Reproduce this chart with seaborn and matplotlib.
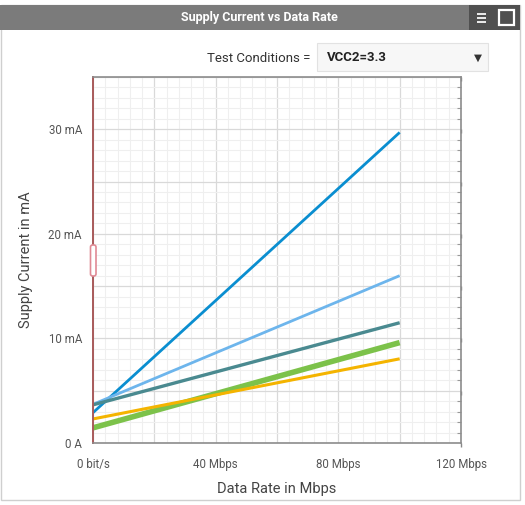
import numpy as np
import pandas as pd
import seaborn as sns
from matplotlib import pyplot as plt
from matplotlib.patches import Rectangle, FancyBboxPatch
from matplotlib.ticker import MultipleLocator, FixedLocator

# data (mA at 0 and 100 Mbps)
rates = [0, 100]
series_names = ['s1', 's2', 's3', 's4', 's5']
dark_blue = [2.9, 29.7]
light_blue = [3.7, 16.0]
teal = [3.65, 11.5]
green = [1.45, 9.6]
orange = [2.3, 8.05]
colors = ['#0a8ed0', '#6db5ec', '#4a8a90', '#7cc24a', '#f4b400']
widths = [2.0, 2.0, 2.4, 4.0, 2.2]

x_ticks = [0, 20, 40, 60, 80, 100, 120]
x_labels = ['0 bit/s', '', '40 Mbps', '', '80 Mbps', '', '120 Mbps']
y_ticks = [0, 5, 10, 15, 20, 25, 30, 35]
y_labels = ['0 A', '', '10 mA', '', '20 mA', '', '30 mA', '']

df = pd.DataFrame({
    'rate': rates * 5,
    'current': dark_blue + light_blue + teal + green + orange,
    'series': [s for s in series_names for _ in rates],
})

sns.set_style('white')
plt.rcParams['font.family'] = ['Roboto', 'DejaVu Sans']

W, H = 525, 505
fig = plt.figure(figsize=(W / 100, H / 100), dpi=100)


def px(x, y, w, h):
    # pixel box (top-left origin) -> figure fractions
    return (x / W, 1 - (y + h) / H, w / W, h / H)


def rect(x, y, w, h, **kw):
    fx, fy, fw, fh = px(x, y, w, h)
    fig.patches.append(Rectangle((fx, fy), fw, fh, transform=fig.transFigure, **kw))


# panel frame and title bar
rect(0.5, 5, 519.5, 495, facecolor='none', edgecolor='#cfcfcf', lw=1)
rect(0, 5, 469, 25, facecolor='#7b7b7b', edgecolor='none')
rect(469, 5, 25, 25, facecolor='#505050', edgecolor='none')
rect(494, 5, 26, 25, facecolor='#505050', edgecolor='none')
rect(499, 10, 15, 15, facecolor='none', edgecolor='white', lw=1.6)
for yy in [13, 17, 21]:
    rect(477, yy, 9, 2, facecolor='#e8e8e8', edgecolor='none')
fig.text(259 / W, 1 - 17.5 / H, 'Supply Current vs Data Rate', color='white',
         fontsize=9, fontweight='bold', ha='center', va='center')

# test conditions dropdown
fig.text(310 / W, 1 - 58 / H, 'Test Conditions =', color='#333333',
         fontsize=9.5, ha='right', va='center')
rect(317, 43, 171, 28, facecolor='#f7f7f7', edgecolor='#e2e2e2', lw=0.8)
fig.text(327 / W, 1 - 57.5 / H, 'VCC2=3.3', color='#222222', fontsize=9.5,
         fontweight='bold', ha='left', va='center')
fig.text(478 / W, 1 - 58 / H, '\u25BC', color='#333333', fontsize=7.5,
         ha='center', va='center', family=['DejaVu Sans'])

ax = fig.add_axes(px(93, 77, 368, 366))
sns.lineplot(data=df, x='rate', y='current', hue='series', palette=colors,
             legend=False, ax=ax)
for line, lw in zip(ax.get_lines(), widths):
    line.set_linewidth(lw)
    line.set_solid_capstyle('butt')

ax.set_xlim(0, 120)
ax.set_ylim(0, 35)
ax.xaxis.set_major_locator(FixedLocator(x_ticks))
ax.yaxis.set_major_locator(FixedLocator(y_ticks))
ax.set_xticklabels(x_labels)
ax.set_yticklabels(y_labels)
ax.xaxis.set_minor_locator(MultipleLocator(4))
ax.yaxis.set_minor_locator(MultipleLocator(1))
ax.grid(which='minor', color='#efefef', lw=0.8)
ax.grid(which='major', color='#d9d9d9', lw=0.9)
ax.set_axisbelow(True)

ax.tick_params(which='major', length=5, width=1, color='#888888',
               labelsize=8.3, labelcolor='#555555')
ax.tick_params(axis='x', which='major', pad=6)
ax.tick_params(axis='y', which='major', pad=3)
ax.tick_params(which='minor', length=0)
# small inward marks along the right edge
ax.tick_params(axis='y', which='both', right=True, labelright=False)
ax.yaxis.set_tick_params(which='minor', length=3, width=0.8, color='#999999', direction='in')
for t in ax.yaxis.get_major_ticks():
    t.tick2line.set_markersize(3)
    t.tick2line.set_marker(3)  # TICKLEFT, pointing inward on the right spine

for side in ['top', 'bottom', 'right']:
    ax.spines[side].set_color('#8c8c8c')
    ax.spines[side].set_linewidth(1.2)
ax.spines['left'].set_color('#a85a5a')
ax.spines['left'].set_linewidth(1.4)

ax.set_xlabel('Data Rate in Mbps', fontsize=10.5, color='#444444', labelpad=8)
ax.set_ylabel('Supply Current in mA', fontsize=10.5, color='#444444', labelpad=11)

# range handle on the y axis
hx, hy, hw, hh = px(90.5, 245, 5.5, 31)
fig.patches.append(FancyBboxPatch((hx, hy), hw, hh, boxstyle='round,pad=0,rounding_size=0.004',
                                  transform=fig.transFigure, facecolor='white',
                                  edgecolor='#e08a95', lw=1.2, zorder=5))

fig.savefig('out.png', dpi=100)
